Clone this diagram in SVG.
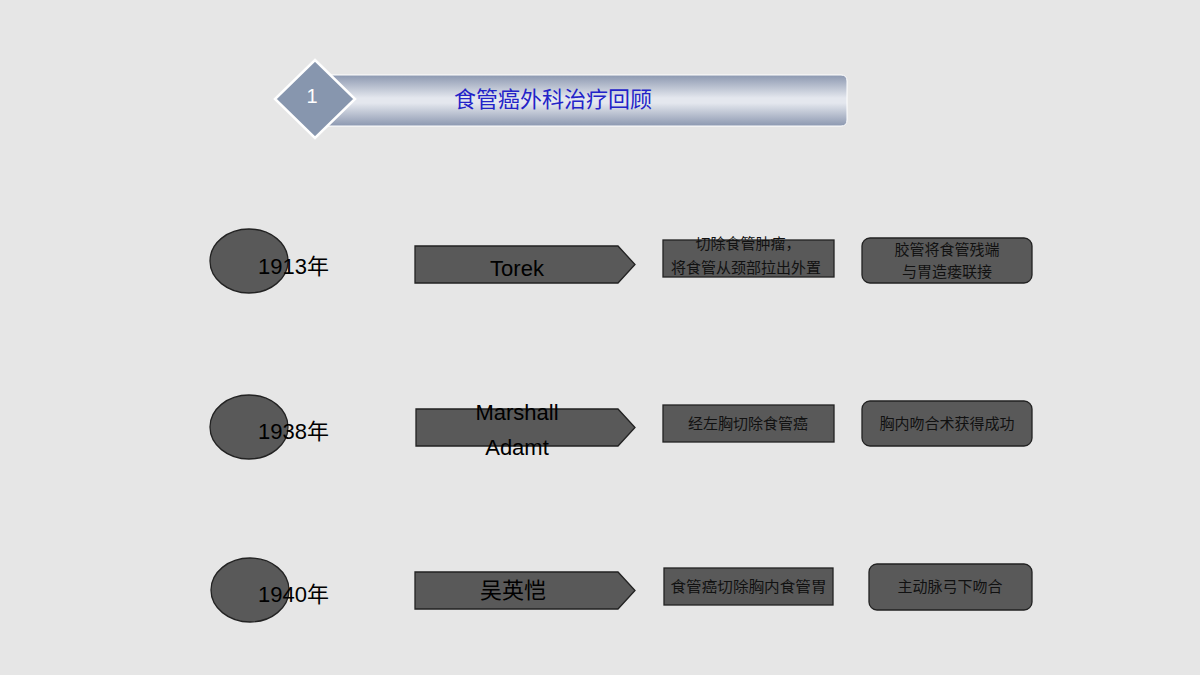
<svg xmlns="http://www.w3.org/2000/svg" width="1200" height="675" viewBox="0 0 1200 675">
<defs>
<linearGradient id="bar" x1="0" y1="0" x2="0" y2="1">
<stop offset="0" stop-color="#8c98b0"/>
<stop offset="0.45" stop-color="#e4e7ee"/>
<stop offset="0.55" stop-color="#e4e7ee"/>
<stop offset="1" stop-color="#8c98b0"/>
</linearGradient>
</defs>
<style>
.shape{fill:#595959;stroke:#222;stroke-width:1.3}
.lat{font-family:"Liberation Sans","Noto Sans CJK SC",sans-serif;fill:#000}
.cjk{font-family:"Liberation Sans","Noto Sans CJK SC",sans-serif;fill:#111;font-size:15px;text-anchor:middle}
.big{font-size:22px;text-anchor:middle}
.year{font-size:22px}
</style>
<rect width="1200" height="675" fill="#e6e6e6"/>
<g id="header">
<path d="M325,75 H841 Q847,75 847,81 V120 Q847,126 841,126 H325 Z" fill="url(#bar)" stroke="#ffffff" stroke-width="1"/>
<polygon points="315,60 355,99 315,138 275,99" fill="#8796ae" stroke="#ffffff" stroke-width="2.5"/>
<text x="312" y="103" class="lat" font-size="20" fill="#ffffff" style="fill:#fff" text-anchor="middle">1</text>
<text x="553" y="107" font-family="Liberation Sans,'Noto Sans CJK SC',sans-serif" font-size="22" fill="#2323c8" text-anchor="middle">食管癌外科治疗回顾</text>
</g>
<g id="row1-year">
<ellipse cx="249" cy="261" rx="39" ry="32" class="shape"/>
<text x="258" y="274" class="lat year">1913年</text>
</g>
<g id="row1-name">
<polygon points="415,246 618,246 635,264.5 618,283 415,283" class="shape"/>
<text x="517" y="276" class="lat big">Torek</text>
</g>
<g id="row1-step1">
<rect x="663" y="240" width="171" height="37" class="shape"/>
<text x="748" y="249" class="cjk">切除食管肿瘤，</text>
<text x="746" y="273" class="cjk">将食管从颈部拉出外置</text>
</g>
<g id="row1-step2">
<rect x="862" y="238" width="170" height="45" rx="8" class="shape"/>
<text x="947" y="255" class="cjk">胶管将食管残端</text>
<text x="947" y="277" class="cjk">与胃造瘘联接</text>
</g>
<g id="row2-year">
<ellipse cx="249" cy="427" rx="39" ry="32" class="shape"/>
<text x="258" y="439" class="lat year">1938年</text>
</g>
<g id="row2-name">
<polygon points="416,409 618,409 635,427.5 618,446 416,446" class="shape"/>
<text x="517" y="420" class="lat big">Marshall</text>
<text x="517" y="455" class="lat big">Adamt</text>
</g>
<g id="row2-step1">
<rect x="663" y="405" width="171" height="37" class="shape"/>
<text x="748" y="429" class="cjk">经左胸切除食管癌</text>
</g>
<g id="row2-step2">
<rect x="862" y="401" width="170" height="45" rx="8" class="shape"/>
<text x="947" y="429" class="cjk">胸内吻合术获得成功</text>
</g>
<g id="row3-year">
<ellipse cx="250" cy="590" rx="39" ry="32" class="shape"/>
<text x="258" y="602" class="lat year">1940年</text>
</g>
<g id="row3-name">
<polygon points="415,572 618,572 635,590.5 618,609 415,609" class="shape"/>
<text x="513" y="598" class="lat big" font-size="23">吴英恺</text>
</g>
<g id="row3-step1">
<rect x="664" y="568" width="169" height="37" class="shape"/>
<text x="748.5" y="592" class="cjk" textLength="156" lengthAdjust="spacingAndGlyphs">食管癌切除胸内食管胃</text>
</g>
<g id="row3-step2">
<rect x="869" y="564" width="163" height="46" rx="8" class="shape"/>
<text x="950" y="592" class="cjk">主动脉弓下吻合</text>
</g>
<g id="connectors"></g>
</svg>
